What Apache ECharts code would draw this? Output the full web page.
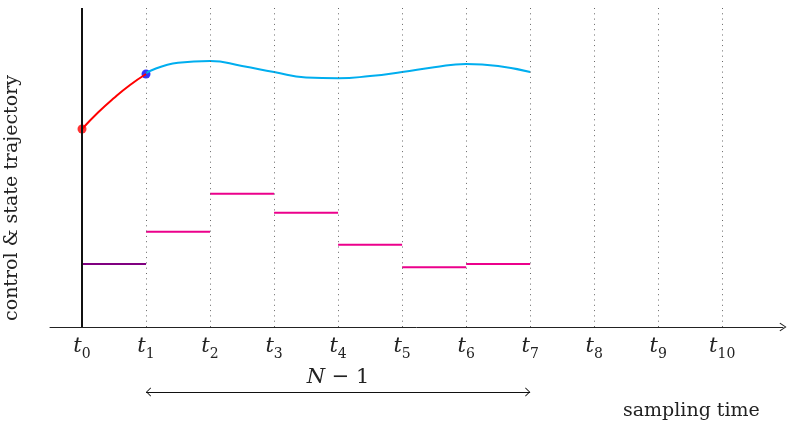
<!DOCTYPE html>
<html>
<head>
<meta charset="utf-8">
<script src="https://cdn.jsdelivr.net/npm/echarts@6/dist/echarts.min.js"></script>
<style>
  html, body { margin: 0; padding: 0; background: #fff; }
  #chart { width: 787px; height: 421px; }
</style>
</head>
<body>
<div id="chart"></div>
<script>
// Sampling instants t0 .. t10
const tickIndex = [0, 1, 2, 3, 4, 5, 6, 7, 8, 9, 10];
const tickSubscripts = ['0', '1', '2', '3', '4', '5', '6', '7', '8', '9', '10'];

// Initial state and its evolution to t1 (red arc)
const initialState = [0, 198];
const firstState = [1, 253];
const arcTimes = [0, 0.25, 0.5, 0.75, 1];
const arcValues = [198, 214.5, 229, 242, 253];

// Predicted state trajectory over the horizon t1 .. t7
const stateTimes = [1, 1.5, 2, 2.5, 3, 3.5, 4, 4.5, 5, 5.5, 6, 6.5, 7];
const stateValues = [254, 264.3, 266, 261, 255, 249.5, 248.7, 251, 255, 259.7, 263, 261, 255];

// Applied control on [t0, t1) and planned controls on [t1, t7)
const appliedControl = 63;
const plannedControls = [95.3, 133.3, 114.3, 82.3, 59.7, 63];

// Horizon arrow from t1 to t7
const horizonStart = 1;
const horizonEnd = 7;
const yTop = 319;

const serif = "'DejaVu Serif', 'Liberation Serif', serif";
// open arrow head, tip at the top of the shape
const chevron = 'path://M0,0L6,9L5,10L0,2.2L-5,10L-6,9Z';
// same head with its tip at the centre of the bounding box, so it ends exactly on the line end
const chevronTip = 'path://M0,-10L0.01,-10L0,-9.99ZM0,0L6,9L5,10L0,2.2L-5,10L-6,9Z';

const toPairs = (xs, ys) => xs.map((x, i) => [x, ys[i]]);

const appliedData = [[0, appliedControl], [1, appliedControl]];
const plannedData = [];
plannedControls.forEach((u, i) => {
  plannedData.push([i + 1, u], [i + 2, u], [i + 2, '-']);
});

const gridLines = tickIndex.filter(k => k > 0).map(k => [
  { coord: [k, 0] }, { coord: [k, yTop] }
]);

const chart = echarts.init(document.getElementById('chart'), null, { renderer: 'canvas' });

chart.setOption({
  animation: false,
  backgroundColor: '#fff',
  title: {
    text: 'sampling time',
    left: 618,
    top: 397,
    textStyle: { fontFamily: serif, fontSize: 19, fontWeight: 'normal', color: '#222' }
  },
  graphic: [{
    type: 'text',
    x: 12,
    y: 198,
    rotation: Math.PI / 2,
    style: {
      text: 'control & state trajectory',
      font: "19px 'DejaVu Serif', 'Liberation Serif', serif",
      fill: '#222',
      align: 'center',
      verticalAlign: 'middle'
    }
  }],
  grid: [
    { left: 50, right: 4, top: 8, bottom: 94, outerBoundsMode: 'none', containLabel: false },
    { left: 50, right: 4, top: 382, bottom: 19, outerBoundsMode: 'none', containLabel: false }
  ],
  xAxis: [
    {
      type: 'value',
      gridIndex: 0,
      min: -0.5,
      max: 10.95,
      splitLine: { show: false },
      axisTick: { show: false },
      axisLine: {
        onZero: false,
        symbol: ['none', chevron],
        symbolSize: [10, 7],
        lineStyle: { color: '#222', width: 1 }
      },
      axisLabel: {
        customValues: tickIndex,
        margin: 6,
        formatter: v => '{t|t}{s|' + tickSubscripts[v] + '}',
        rich: {
          t: { fontFamily: serif, fontStyle: 'italic', fontSize: 21, color: '#222', verticalAlign: 'bottom', lineHeight: 24 },
          s: { fontFamily: serif, fontSize: 14, color: '#222', verticalAlign: 'bottom', lineHeight: 24, padding: [0, 0, -4, 0] }
        }
      }
    },
    {
      type: 'value',
      gridIndex: 1,
      min: -0.5,
      max: 10.95,
      show: false
    }
  ],
  yAxis: [
    { type: 'value', gridIndex: 0, min: 0, max: yTop, show: false },
    { type: 'value', gridIndex: 1, min: 0, max: 1, show: false }
  ],
  series: [
    {
      name: 'applied control',
      type: 'line',
      data: appliedData,
      showSymbol: false,
      silent: true,
      lineStyle: { color: '#800080', width: 2 },
      markLine: {
        silent: true,
        symbol: 'none',
        label: { show: false },
        lineStyle: { color: '#666', width: 1, type: [1, 4.3] },
        data: gridLines
      }
    },
    {
      name: 'planned control',
      type: 'line',
      data: plannedData,
      showSymbol: false,
      connectNulls: false,
      silent: true,
      lineStyle: { color: '#ec008c', width: 2 },
      markLine: {
        silent: true,
        symbol: 'none',
        label: { show: false },
        lineStyle: { color: '#111', width: 2, type: 'solid' },
        data: [[{ coord: [0, 0] }, { coord: [0, yTop] }]]
      }
    },
    {
      name: 'initial evolution',
      type: 'line',
      data: toPairs(arcTimes, arcValues),
      smooth: true,
      showSymbol: false,
      silent: true,
      lineStyle: { color: '#ff0000', width: 2 }
    },
    {
      name: 'predicted state',
      type: 'line',
      data: toPairs(stateTimes, stateValues),
      smooth: 0.5,
      showSymbol: false,
      silent: true,
      lineStyle: { color: '#00aeef', width: 2 }
    },
    {
      name: 'state samples',
      type: 'scatter',
      silent: true,
      symbolSize: 9,
      data: [
        { value: initialState, itemStyle: { color: '#ff0000' } },
        { value: firstState, itemStyle: { color: '#0000ff' } }
      ]
    },
    {
      name: 'horizon',
      type: 'line',
      xAxisIndex: 1,
      yAxisIndex: 1,
      data: [],
      silent: true,
      markLine: {
        silent: true,
        symbol: [chevronTip, chevronTip],
        symbolSize: [9, 10],
        lineStyle: { color: '#111', width: 1, type: 'solid' },
        label: {
          show: true,
          position: 'middle',
          distance: 4,
          formatter: '{i|N} − 1',
          fontFamily: serif,
          fontSize: 21,
          color: '#222',
          rich: { i: { fontFamily: serif, fontStyle: 'italic', fontSize: 21, color: '#222' } }
        },
        data: [[{ coord: [horizonStart, 0.5] }, { coord: [horizonEnd, 0.5] }]]
      }
    }
  ]
});
</script>
</body>
</html>
